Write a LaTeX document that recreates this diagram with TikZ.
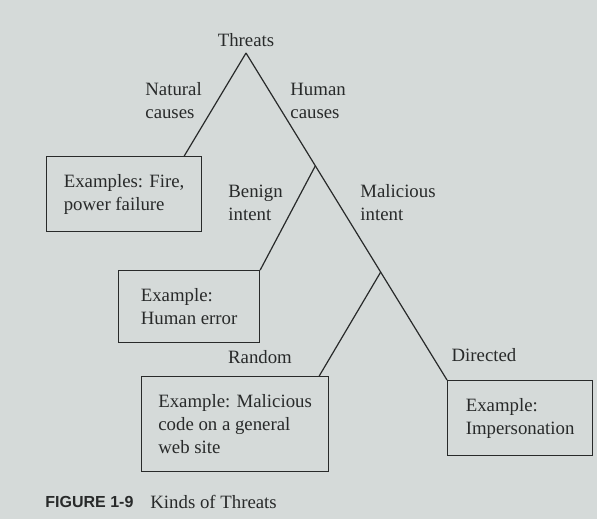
\documentclass[tikz,border=0pt]{standalone}
\usepackage{fontspec}
\setmainfont{Liberation Serif}
\setsansfont{Liberation Sans}
\usetikzlibrary{calc}
\definecolor{paper}{RGB}{213,218,217}
\definecolor{ink}{RGB}{40,42,42}

\begin{document}
\begin{tikzpicture}[x=0.5pt,y=-0.5pt,
  txt/.style={font=\fontsize{9.4}{11.5}\selectfont,text=ink,align=left,inner sep=0pt},
  exbox/.style={txt,draw=ink,line width=0.6pt,anchor=north west},
  branch/.style={draw=ink,line width=0.6pt}]
\fill[paper] (0,0) rectangle (597,519);
\useasboundingbox (0,0) rectangle (597,519);

\node[txt,inner sep=3pt] (threats) at (246,40) {Threats};
\node[exbox,minimum width=77.5pt,minimum height=37.5pt] (fire) at (46,156) {Examples: Fire,\\power failure};
\node[exbox,minimum width=70.5pt,minimum height=36pt] (err) at (118,270) {Example:\\Human error};
\node[exbox,minimum width=93.5pt,minimum height=47.5pt] (code) at (141,376) {Example: Malicious\\code on a general\\web site};
\node[exbox,minimum width=72.5pt,minimum height=37.5pt] (imp) at (447,380) {Example:\\Impersonation};

\coordinate (j1) at ($(threats.south)!0.345!(imp.north west)$);
\coordinate (j2) at ($(threats.south)!0.67!(imp.north west)$);

\draw[branch] (threats.south) -- ([xshift=-9pt]fire.north east);
\draw[branch] (threats.south) -- (imp.north west);
\draw[branch] (j1) -- (err.north east);
\draw[branch] (j2) -- ([xshift=-5pt]code.north east);

\node[txt,anchor=west] (natural) at (145,101) {Natural\\causes};
\node[txt,anchor=west] (human) at (290,101) {Human\\causes};
\node[txt,anchor=west] (benign) at (228,203) {Benign\\intent};
\node[txt,anchor=west] (malicious) at (360,203) {Malicious\\intent};
\node[txt] (random) at (260,357) {Random};
\node[txt] (directed) at (484,355) {Directed};

\node[txt,anchor=west,font=\sffamily\bfseries\fontsize{8}{10}\selectfont] (fignum) at (45,502) {FIGURE 1-9};
\node[txt,anchor=west] (figcap) at (150,502) {Kinds of Threats};
\end{tikzpicture}
\end{document}
